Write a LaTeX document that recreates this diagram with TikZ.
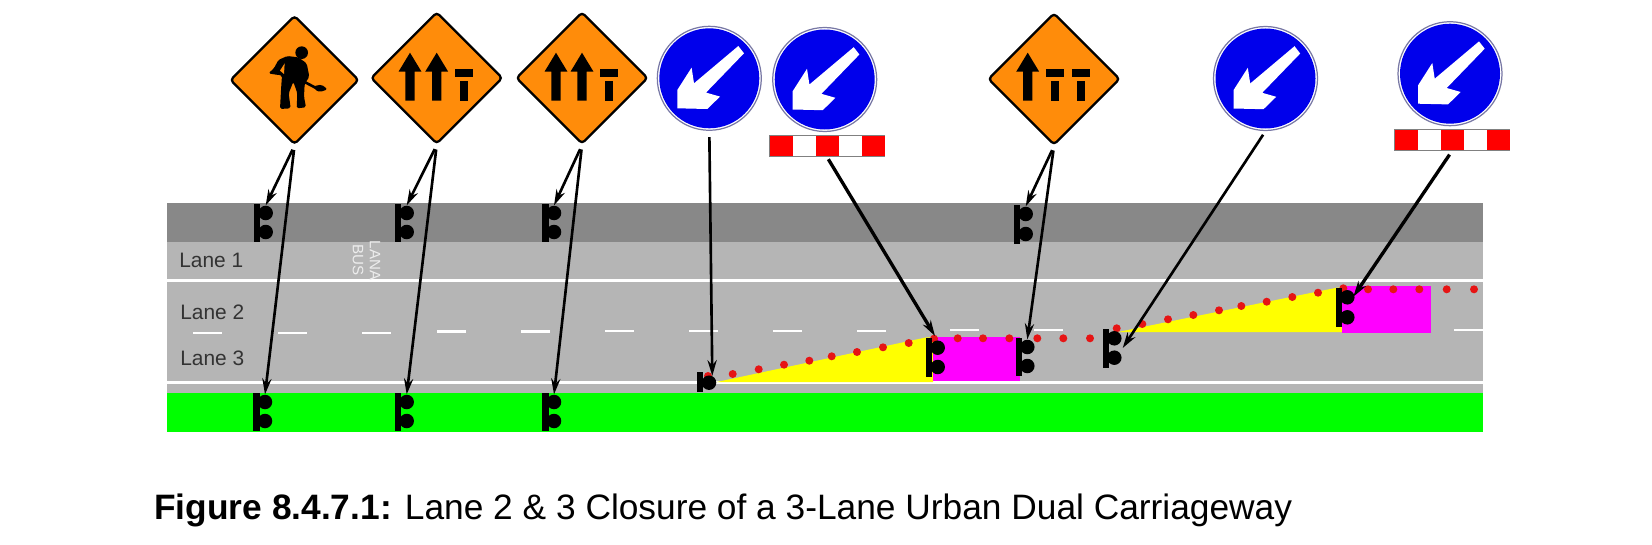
\documentclass[tikz,border=0pt]{standalone}
\usepackage{fontspec}
\setmainfont{Liberation Sans}
\usepackage{tikz}
\usetikzlibrary{arrows.meta, shapes.geometric}

\definecolor{signorange}{RGB}{255,140,10}
\definecolor{signblue}{RGB}{0,0,235}
\definecolor{ringgrey}{RGB}{120,120,165}
\definecolor{verge}{RGB}{136,136,136}
\definecolor{road}{RGB}{181,181,181}
\definecolor{conered}{RGB}{230,20,20}
\definecolor{taper}{RGB}{255,255,0}
\definecolor{closed}{RGB}{255,0,255}
\definecolor{grass}{RGB}{0,255,0}
\definecolor{boardred}{RGB}{255,0,0}

\tikzset{
  warnsign/.style={diamond, aspect=1, draw=black, line width=1.3pt, fill=signorange, rounded corners=2pt, inner sep=0pt, minimum size=2.64cm},
  keepsign/.style={circle, draw=ringgrey, line width=0.7pt, fill=white, inner sep=0pt, minimum size=2.08cm},
  barrier/.style={draw=gray, line width=0.5pt, fill=white, inner sep=0pt, minimum width=2.31cm, minimum height=0.43cm},
  lamp/.style={circle, fill=black, inner sep=0pt, minimum size=0.29cm},
  wire/.style={line width=1.5pt, -{Stealth[length=9pt, width=5.2pt]}},
  longwire/.style={wire, line width=1.9pt},
  lanetext/.style={text=black!80, font=\fontsize{11.9}{14}\selectfont, anchor=base west, inner sep=0pt},
  bustext/.style={text=black!7, font=\fontsize{8.6}{10}\selectfont, rotate=-90, inner sep=0pt},
  closedlane/.pic={
    \fill (-8.8,-8.7) rectangle (8.8,-0.7);
    \fill (-4.4,2.7) rectangle (4.4,22.7);
  },
  openlane/.pic={
    \fill (0,-25.3) -- (11.5,-6.3) -- (4.6,-6.3) -- (4.6,22.7) -- (-4.6,22.7) -- (-4.6,-6.3) -- (-11.5,-6.3) -- cycle;
  }
}

\begin{document}
\begin{tikzpicture}[x=0.02cm, y=-0.02cm]
    \useasboundingbox (0,0) rectangle (1652,544);

    % draw the verge, the carriageway and the grass
    \fill[verge] (167,203) rectangle (1483,242);
    \fill[road] (167,242) rectangle (1483,393);
    \fill[grass] (167,393) rectangle (1483,432);

    % draw the lane lines
    \draw[white, line width=1.4pt] (167,280.7) -- (1483,280.7);
    \draw[white, line width=1.4pt] (167,382.3) -- (1483,382.3);
    \foreach \x/\y in {193/333, 278/333, 362/333, 437/331.5, 521/331.5, 605/331, 689/331, 773/331, 857/331, 950/330, 1034/330, 1454/330}
      \draw[white, line width=1.2pt] (\x,\y) -- (\x+29,\y);

    % draw the lane labels
    \node[lanetext] (lane1) at (179,267) {Lane 1};
    \node[lanetext] (lane2) at (180,319) {Lane 2};
    \node[lanetext] (lane3) at (180,365) {Lane 3};
    \node[bustext] (lana) at (375,260.5) {LANA};
    \node[bustext] (bus) at (358,260) {BUS};

    % draw the tapers and the closed areas
    \fill[taper] (716.7,382) -- (926.7,337.3) -- (933,337.3) -- (933,382) -- cycle;
    \fill[closed] (932.7,337.3) rectangle (1020,381);
    \fill[taper] (1118,332) -- (1336.7,287.7) -- (1342.3,287.7) -- (1342.3,332) -- cycle;
    \fill[closed] (1342.3,285.7) rectangle (1431,332.7);

    % draw the cones
    \foreach \x/\y in {708/376, 732.7/374, 758.7/369.3, 784/364.7, 809.3/360.7, 831.7/356.3, 857/352, 883/347.3, 908.7/343, 934/338.7, 957.7/338.3, 983/338.3, 1009.3/338.3, 1037.3/338.3, 1063.3/338.3, 1090/338.3, 1116.7/328.3, 1142.3/324, 1168/319.3, 1193.3/315, 1219/310.3, 1241.3/306, 1266.7/301.7, 1292.3/297, 1318/292.7, 1343.3/288.3, 1368/289.3, 1393.3/289.3, 1419.3/289.3, 1446.7/289.3, 1474/289.3}
      \fill[conered] (\x,\y) circle [radius=4];

    % draw the two lamp signals
    \foreach \name/\x/\ya/\yb in {va/265.7/213/232, vb/406.7/213/232, vc/554/213/232, vd/1025.7/214/234, ga/265/402/421, gb/406.7/402/421, gc/554/402/421, ra/937.7/347.7/367, rb/1027.3/347/366, rc/1114.3/338.3/357.7, rd/1347.3/297.3/317.3} {
      \fill (\x-11.8,\ya-9.5) rectangle (\x-5.4,\yb+10);
      \node[lamp] (\name t) at (\x,\ya) {};
      \node[lamp] (\name b) at (\x,\yb) {};
    }

    % draw the one lamp signal at the start of the taper
    \fill (697.2,372) rectangle (703.4,392);
    \node[lamp] (start) at (709,382.7) {};

    % draw the warning signs
    \node[warnsign, minimum size=2.58cm] (worker) at (294.5,80) {};
    \node[warnsign] (twoa) at (436.7,78) {};
    \node[warnsign] (twob) at (582,78) {};
    \node[warnsign] (one) at (1054,79) {};

    % draw the man at work
    \begin{scope}[shift={(200,0)}, scale=1/3]
      \fill (305,158) circle [radius=19];
      \fill[rounded corners=1pt] (235,180) -- (262,168) -- (295,172) -- (320,190) -- (328,230) -- (314,252) -- (312,290) -- (318,322) -- (290,325) -- (292,280) -- (280,245) -- (266,280) -- (272,325) -- (240,327) -- (243,270) -- (246,226) -- (228,224) -- (205,220) -- (222,205) -- cycle;
      \fill[signorange] (240,212) -- (254,190) -- (252,222) -- cycle;
      \draw[line width=1.5pt] (312,245) -- (350,265);
      \fill[rounded corners=1pt] (342,258) -- (365,254) -- (383,268) -- (360,276) -- (345,270) -- cycle;
    \end{scope}

    % draw the arrows and the closed lanes on the signs
    \foreach \x in {410, 436.7, 556, 582, 1027.7}
      \pic at (\x,78) {openlane};
    \foreach \x in {464, 609, 1055, 1081}
      \pic at (\x,78) {closedlane};

    % draw the keep left signs
    \foreach \name/\x/\y in {keepa/709.3/78.3, keepb/824.7/79.5, keepc/1265.5/78.5, keepd/1450/73.7} {
      \node[keepsign] (\name) at (\x,\y) {};
      \fill[signblue] (\x,\y) circle [radius=50];
      \fill[white] (\x+29,\y-32.3) -- (\x+34.7,\y-25) -- (\x-3.3,\y+14.3) -- (\x+10.7,\y+18.3) -- (\x-2,\y+30.7) -- (\x-32,\y+30) -- (\x-32,\y+11.7) -- (\x-17.7,\y-10.7) -- (\x-15.3,\y+5) -- cycle;
    }

    % draw the barrier boards
    \foreach \name/\x/\y in {boarda/827/145.8, boardb/1452/139.8} {
      \node[barrier] (\name) at (\x,\y) {};
      \foreach \dx in {-46, 0, 46}
        \fill[boardred] (\x+\dx-11.5,\y-10) rectangle (\x+\dx+11.5,\y+10);
    }

    % the free ends of the long arrows
    \coordinate (tipa) at (712.3,376);
    \coordinate (tipb) at (935,336);
    \coordinate (tipc) at (1122.7,348);
    \coordinate (tipd) at (1353.3,296.7);

    % draw the arrows from the signs to the road
    \draw[wire, shorten <=2.5pt] (worker.south) -- (vat.north);
    \draw[wire, shorten <=2.5pt] (twoa.south) -- (vbt.north);
    \draw[wire, shorten <=2.5pt] (twob.south) -- (vct.north);
    \draw[wire, shorten <=2.5pt] (one.south) -- (vdt.north);
    \draw[wire, shorten <=2.5pt] (worker.south) -- (gat.north);
    \draw[wire, shorten <=2.5pt] (twoa.south) -- (gbt.north);
    \draw[wire, shorten <=2.5pt] (twob.south) -- (gct.north);
    \draw[wire, shorten <=2.5pt] (one.south) -- (rbt.north);
    \draw[wire, shorten <=3.5pt] (keepa.south) -- (tipa);
    \draw[longwire, shorten <=1.5pt] (boarda.south) -- (tipb);
    \draw[wire, shorten <=2.5pt] (keepc.south) -- (tipc);
    \draw[longwire, shorten <=2.5pt] (boardb.south) -- (tipd);

    % draw the caption
    \node[anchor=base west, inner sep=0pt, font=\fontsize{20.1}{24}\selectfont] (caption) at (154,519) {\textbf{Figure 8.4.7.1:} Lane 2 \& 3 Closure of a 3-Lane Urban Dual Carriageway};

\end{tikzpicture}
\end{document}
